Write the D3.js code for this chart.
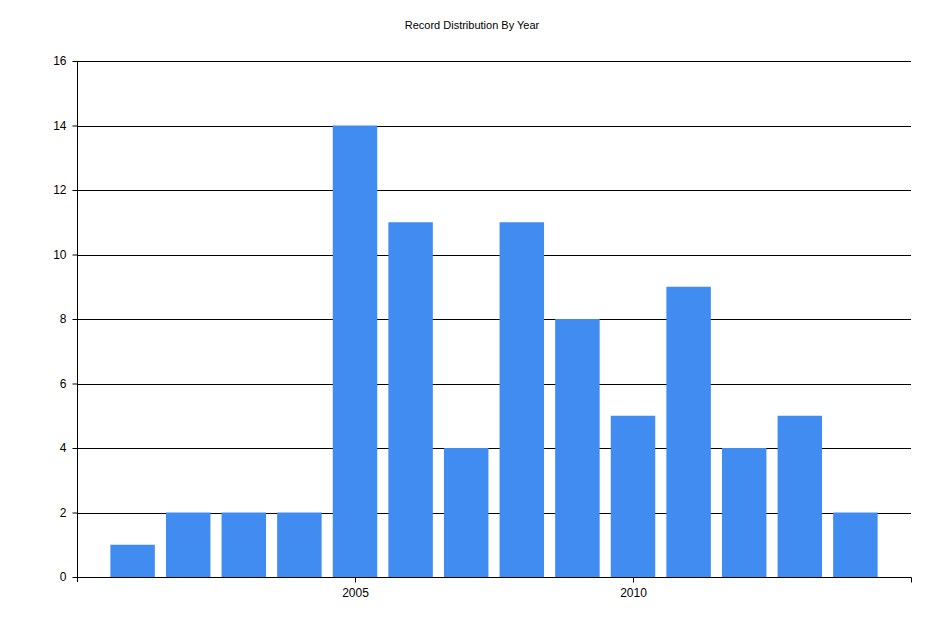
<!DOCTYPE html>
<html>
<head>
<meta charset="utf-8">
<script src="https://cdn.jsdelivr.net/npm/d3@7"></script>
<style>
  body { margin: 0; background: #fff; }
  text { font-family: "Liberation Sans", Arial, sans-serif; fill: #000; }
</style>
</head>
<body>
<svg width="945" height="630"></svg>
<script>
const years = [2001, 2002, 2003, 2004, 2005, 2006, 2007, 2008, 2009, 2010, 2011, 2012, 2013, 2014];
const counts = [1, 2, 2, 2, 14, 11, 4, 11, 8, 5, 9, 4, 5, 2];
const yTicks = [0, 2, 4, 6, 8, 10, 12, 14, 16];
const xTicks = [2005, 2010];

const svg = d3.select('svg');

const x = d3.scaleLinear().domain([2000, 2015]).range([77, 911]);
const y = d3.scaleLinear().domain([0, 16]).range([577, 61]);
const barW = (x(2001) - x(2000)) * 0.8;

// title
svg.append('text')
    .attr('x', 472).attr('y', 29)
    .attr('text-anchor', 'middle')
    .style('font-size', '11px')
    .text('Record Distribution By Year');

// gridlines
svg.append('g').selectAll('line').data(yTicks.filter(d => d > 0)).enter()
    .append('line')
    .attr('x1', 77).attr('x2', 911)
    .attr('y1', d => Math.round(y(d)) + 0.5)
    .attr('y2', d => Math.round(y(d)) + 0.5)
    .attr('stroke', '#000');

// bars
svg.append('g').selectAll('rect').data(counts).enter()
    .append('rect')
    .attr('x', (d, i) => x(years[i]) - barW / 2)
    .attr('width', barW)
    .attr('y', d => y(d))
    .attr('height', d => y(0) - y(d))
    .attr('fill', '#418cf0');

// y axis
const yAxis = svg.append('g')
    .attr('transform', 'translate(77.5,0)')
    .call(d3.axisLeft(y).tickValues(yTicks).tickSize(5).tickPadding(6));
yAxis.select('.domain').attr('d', 'M0,61V582');
yAxis.selectAll('text').style('font-size', '12px');

// x axis
const xAxis = svg.append('g')
    .attr('transform', 'translate(0,577.5)')
    .call(d3.axisBottom(x).tickValues(xTicks).tickFormat(d3.format('d')).tickSize(5).tickPadding(6));
xAxis.select('.domain').attr('d', 'M77,0H911.5V5');
xAxis.selectAll('text').style('font-size', '12px');
</script>
</body>
</html>
